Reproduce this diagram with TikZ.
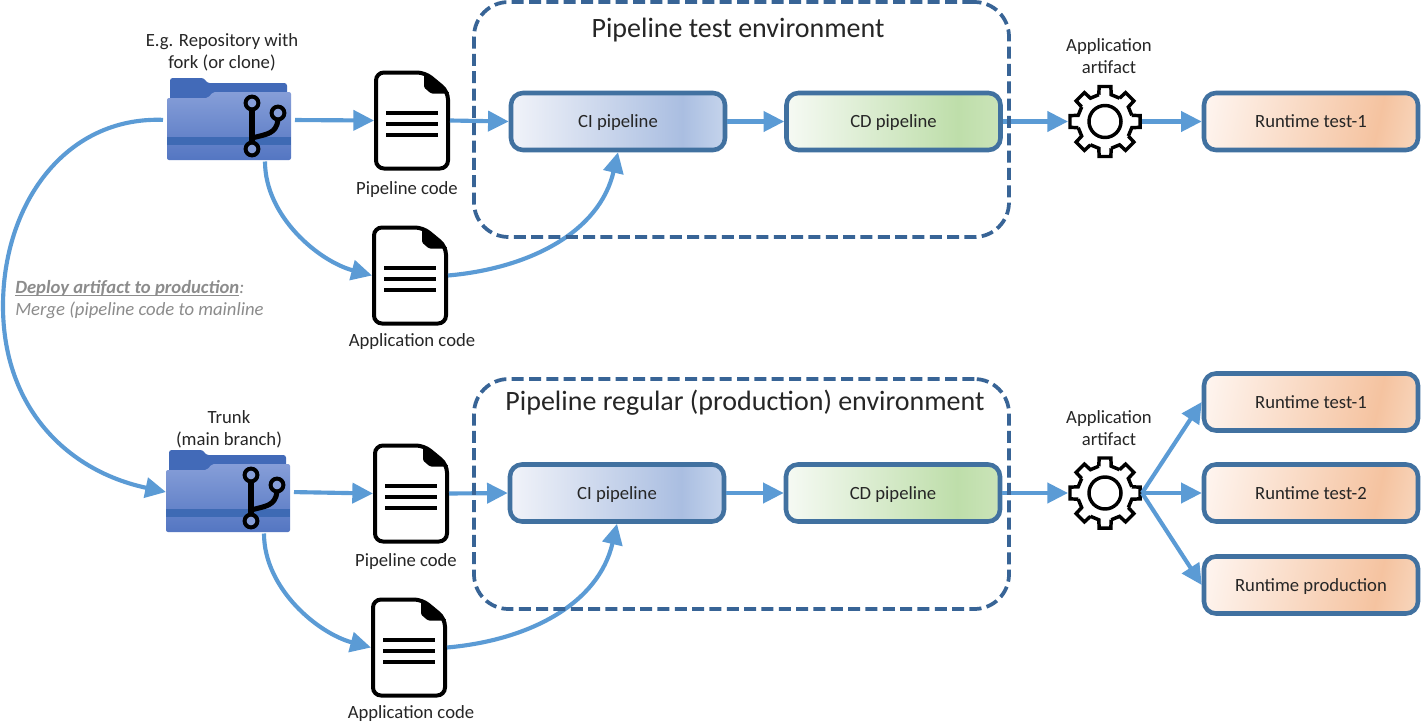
\documentclass[tikz,border=0pt]{standalone}
\usepackage{fontspec}
\setmainfont{Carlito}
\usetikzlibrary{arrows.meta}
\definecolor{flowblue}{RGB}{91,155,213}
\definecolor{edgeblue}{RGB}{65,113,160}
\definecolor{darkblue}{RGB}{56,100,150}
\definecolor{foldback}{RGB}{66,106,184}
\definecolor{foldtop}{RGB}{134,158,216}
\definecolor{foldbot}{RGB}{84,118,194}
\definecolor{foldband}{RGB}{62,106,180}
\definecolor{notegray}{RGB}{140,140,140}
\definecolor{cia}{RGB}{241,243,249}
\definecolor{cib}{RGB}{170,190,225}
\definecolor{cic}{RGB}{197,212,236}
\definecolor{cda}{RGB}{246,250,244}
\definecolor{cdb}{RGB}{190,222,170}
\definecolor{cdc}{RGB}{203,228,185}
\definecolor{runa}{RGB}{254,244,238}
\definecolor{runb}{RGB}{245,195,160}
\definecolor{runc}{RGB}{248,215,190}
\def\u{0.75pt}
\pgfdeclarehorizontalshading{cishade}{100bp}{color(0bp)=(cia); color(25bp)=(cia); color(65bp)=(cib); color(75bp)=(cic); color(100bp)=(cic)}
\pgfdeclarehorizontalshading{cdshade}{100bp}{color(0bp)=(cda); color(25bp)=(cda); color(65bp)=(cdb); color(75bp)=(cdc); color(100bp)=(cdc)}
\pgfdeclarehorizontalshading{runshade}{100bp}{color(0bp)=(runa); color(22bp)=(runa); color(68bp)=(runb); color(80bp)=(runc); color(100bp)=(runc)}
\tikzset{
  x=\u, y=-\u,
  flow/.style={draw=flowblue, line width=3.1pt, -{Triangle[length=15.5pt,width=15pt]}},
  stagebox/.style={draw=edgeblue, line width=3.4pt, rounded corners=9pt, minimum width=214*\u, minimum height=57*\u, inner sep=0pt, text=black!85, text height=12pt, text depth=3pt, font=\fontsize{14}{15}\selectfont},
  envbox/.style={draw=darkblue, line width=2.8pt, dashed, dash pattern=on 9pt off 4pt, rounded corners=26pt, inner sep=0pt, minimum width=535*\u},
  iconbox/.style={inner sep=0pt, outer sep=0pt},
  lbl/.style={align=center, inner sep=0pt, text=black!85, font=\fontsize{14}{16.5}\selectfont},
  envtitle/.style={inner sep=0pt, text=black!85, font=\fontsize{21}{22}\selectfont},
  folder/.pic={
    \fill[foldback, rounded corners=2pt] (-59,38) -- (-59,-42) -- (-25,-42) -- (-22,-37) -- (58,-37) -- (58,38) -- cycle;
    \shade[top color=foldtop, bottom color=foldbot, rounded corners=1.5pt] (-62,-22) -- (-21,-22) -- (-16,-28) -- (62,-28) -- (62,40) -- (-62,40) -- cycle;
    \fill[foldband] (-62,17) rectangle (62,25);
    \draw[black, line width=3.8pt] (23,-10) -- (23,22);
    \draw[black, line width=3.8pt] (49,0) .. controls (47,14) and (38,14) .. (23,18);
    \foreach \cx/\cy in {23/-17,49/-7,23/29}
      \draw[black, fill=foldtop, line width=3pt] (\cx,\cy) circle (6.4);
  },
  docicon/.pic={
    \draw[black, line width=3pt, fill=white, rounded corners=6pt] (-36,-48) -- (13,-48) -- (36,-29) -- (36,48) -- (-36,48) -- cycle;
    \fill[black, rounded corners=1pt] (12,-49) -- (38,-27) -- (19,-27) -- (12,-33) -- cycle;
    \foreach \ly in {-7.5,3.5,14.5}
      \draw[black, line width=2.6pt] (-26,\ly) -- (26,\ly);
  },
  gearicon/.pic={
    \draw[black, line width=2.6pt, fill=white, line join=miter]
      \foreach \a in {0,45,...,315} { (\a-13:27.5) -- (\a-9.5:35.5) -- (\a+9.5:35.5) -- (\a+13:27.5) -- (\a+32:27.5) };
    \draw[black, line width=2.6pt] (0,0) circle (16);
  }
}
\begin{document}
\begin{tikzpicture}
\useasboundingbox (0,0) rectangle (1425,725);
\fill[white] (0,0) rectangle (1425,725);

% Icons, top row
\node[iconbox, minimum width=124*\u, minimum height=83*\u] (repo) at (229,120) {};
\pic at (repo) {folder};
\node[iconbox, minimum width=76*\u, minimum height=99*\u] (pipedoc) at (412,120.5) {};
\pic at (pipedoc) {docicon};
\node[iconbox, minimum width=76*\u, minimum height=99*\u] (appdoc) at (410,275.5) {};
\pic at (appdoc) {docicon};
\node[iconbox, circle, minimum size=74*\u] (gear) at (1105,121.5) {};
\pic at (gear) {gearicon};

% Icons, bottom row
\node[iconbox, minimum width=124*\u, minimum height=83*\u] (trunk) at (228,492) {};
\pic at (trunk) {folder};
\node[iconbox, minimum width=76*\u, minimum height=99*\u] (tpipedoc) at (411,493.5) {};
\pic at (tpipedoc) {docicon};
\node[iconbox, minimum width=76*\u, minimum height=99*\u] (tappdoc) at (409,647.5) {};
\pic at (tappdoc) {docicon};
\node[iconbox, circle, minimum size=74*\u] (tgear) at (1105,493) {};
\pic at (tgear) {gearicon};

% Stages
\node[stagebox, shading=cishade] (ci) at (618,121.5) {CI pipeline};
\node[stagebox, shading=cdshade] (cd) at (893.5,121.5) {CD pipeline};
\node[stagebox, shading=runshade, shading angle=-12] (run) at (1311,121.5) {Runtime test-1};
\node[stagebox, shading=cishade] (tci) at (617,493) {CI pipeline};
\node[stagebox, shading=cdshade] (tcd) at (893,493) {CD pipeline};
\node[stagebox, shading=runshade, shading angle=-12] (runt) at (1311,402) {Runtime test-1};
\node[stagebox, shading=runshade, shading angle=-12] (runu) at (1311,493) {Runtime test-2};
\node[stagebox, shading=runshade, shading angle=-12] (runp) at (1311,585) {Runtime production};

% Flows, top row
\draw[flow, shorten <=3pt] (repo.east) -- (pipedoc.west);
\draw[flow] (pipedoc.east) -- (ci.west);
\draw[flow] (ci.east) -- (cd.west);
\draw[flow] (cd.east) -- (gear.west);
\draw[flow] (gear.east) -- (run.west);
\draw[flow] ([xshift=36*\u]repo.south) to[out=-90, in=165, looseness=0.9] (appdoc.west);
\draw[flow] (appdoc.east) to[out=5, in=-103, looseness=1.0] (ci.south);

% Flows, bottom row
\draw[flow, shorten <=3pt] (trunk.east) -- (tpipedoc.west);
\draw[flow] (tpipedoc.east) -- (tci.west);
\draw[flow] (tci.east) -- (tcd.west);
\draw[flow] (tcd.east) -- (tgear.west);
\draw[flow] (tgear.east) -- (runt.west);
\draw[flow] (tgear.east) -- (runu.west);
\draw[flow] (tgear.east) -- (runp.west);
\draw[flow] ([xshift=36*\u]trunk.south) to[out=-90, in=165, looseness=0.9] (tappdoc.west);
\draw[flow] (tappdoc.east) to[out=5, in=-103, looseness=1.0] (tci.south);

% Merge back to the trunk
\coordinate (bulge) at (3,306);
\draw[flow, shorten <=3pt] (repo.west) to[out=178, in=90, looseness=1.05] (bulge) to[out=-90, in=168, looseness=1.05] (trunk.west);

% Dashed environments
\node[envbox, minimum height=235*\u] (testenv) at (741.5,119.5) {};
\node[envbox, minimum height=230*\u] (prodenv) at (741.5,494) {};
\node[envtitle] (testtitle) at (738,30) {Pipeline test environment};
\node[envtitle] (prodtitle) at (745,403) {Pipeline regular (production) environment};

% Labels
\node[lbl] (repolabel) at (222,52) {E.g. Repository with\\fork (or clone)};
\node[lbl] (pipelabel) at (407,190) {Pipeline code};
\node[lbl] (applabel) at (412,342) {Application code};
\node[lbl] (artlabel) at (1109,56) {Application\\artifact};
\node[lbl] (trunklabel) at (229,429) {Trunk\\(main branch)};
\node[lbl] (tpipelabel) at (406,562) {Pipeline code};
\node[lbl] (tapplabel) at (411,714) {Application code};
\node[lbl] (tartlabel) at (1109,428) {Application\\artifact};
\node[lbl, align=left, anchor=west, text=notegray] (note) at (15,302) {\underline{\smash{\textbf{\textit{Deploy artifact to production}}}}\textit{:}\\\textit{Merge (pipeline code to mainline}};
\end{tikzpicture}
\end{document}
